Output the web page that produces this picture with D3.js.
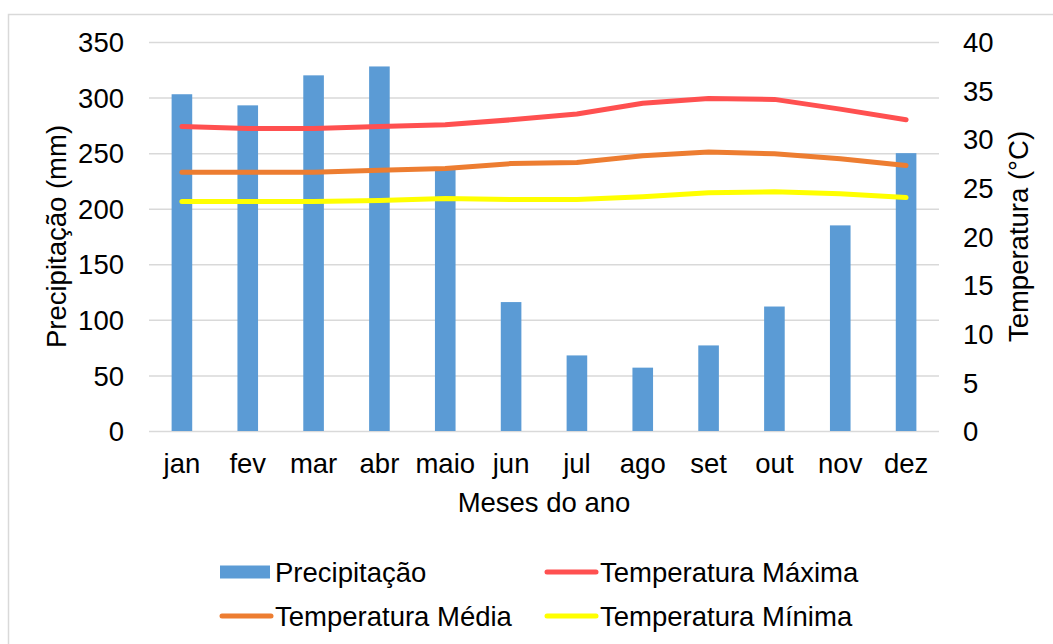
<!DOCTYPE html>
<html>
<head>
<meta charset="utf-8">
<script src="https://cdn.jsdelivr.net/npm/d3@7"></script>
<style>
  body { margin: 0; background: #fff; }
  svg text { font-family: "Liberation Sans", Arial, sans-serif; fill: #000; }
</style>
</head>
<body>
<svg id="chart"></svg>
<script>
// data
const months = ['jan', 'fev', 'mar', 'abr', 'maio', 'jun', 'jul', 'ago', 'set', 'out', 'nov', 'dez'];
const precip = [303, 293, 320, 328, 236, 116, 68, 57, 77, 112, 185, 250];
const tMax = [31.3, 31.1, 31.1, 31.3, 31.5, 32.0, 32.6, 33.7, 34.2, 34.1, 33.1, 32.0];
const tMed = [26.6, 26.6, 26.6, 26.8, 27.0, 27.5, 27.6, 28.3, 28.7, 28.5, 28.0, 27.3];
const tMin = [23.6, 23.6, 23.6, 23.7, 23.9, 23.8, 23.8, 24.1, 24.5, 24.6, 24.4, 24.0];
const leftTicks = [0, 50, 100, 150, 200, 250, 300, 350];
const rightTicks = [0, 5, 10, 15, 20, 25, 30, 35, 40];

const seriesNames = ['Precipitação', 'Temperatura Máxima', 'Temperatura Média', 'Temperatura Mínima'];
const colors = ['#5B9BD5', '#FF5050', '#ED7D31', '#FFFF00'];

const config = {
  width: 1053,
  height: 644,
  margin: { top: 42, bottom: 213, left: 149, right: 114 }
};
const width = config.width - config.margin.left - config.margin.right;
const height = config.height - config.margin.top - config.margin.bottom;
const fontSize = '27.5px';

const svg = d3.select('#chart')
  .attr('width', config.width)
  .attr('height', config.height);

// light frame of the chart area (only top and left show)
svg.append('rect')
  .attr('x', 8.5).attr('y', 14.5)
  .attr('width', 1200).attr('height', 800)
  .attr('fill', '#fff')
  .attr('stroke', '#d9d9d9')
  .attr('stroke-width', 1.5);

const chart = svg.append('g')
  .attr('transform', `translate(${config.margin.left},${config.margin.top})`);

// scales
const xScale = d3.scaleBand().domain(months).range([0, width]);
const yLeft = d3.scaleLinear().domain([0, 350]).range([height, 0]);
const yRight = d3.scaleLinear().domain([0, 40]).range([height, 0]);

// gridlines
chart.append('g')
  .attr('class', 'grid')
  .call(d3.axisLeft(yLeft).tickValues(leftTicks).tickSize(-width).tickFormat(''))
  .call(g => g.select('.domain').remove())
  .call(g => g.selectAll('line').attr('stroke', '#d9d9d9').attr('stroke-width', 1.5));

// left axis labels
chart.append('g')
  .call(d3.axisLeft(yLeft).tickValues(leftTicks).tickSize(0).tickPadding(25))
  .call(g => g.select('.domain').remove())
  .call(g => g.selectAll('text').style('font-size', fontSize).attr('dy', '0.35em'));

// right axis labels
chart.append('g')
  .attr('transform', `translate(${width},0)`)
  .call(d3.axisRight(yRight).tickValues(rightTicks).tickSize(0).tickPadding(24))
  .call(g => g.select('.domain').remove())
  .call(g => g.selectAll('text').style('font-size', fontSize).attr('dy', '0.35em'));

// x axis labels
chart.append('g')
  .attr('transform', `translate(0,${height})`)
  .call(d3.axisBottom(xScale).tickSize(0).tickPadding(22))
  .call(g => g.select('.domain').remove())
  .call(g => g.selectAll('text').style('font-size', fontSize));

// bars
const barW = xScale.bandwidth() * 0.313;
chart.selectAll('.bar')
  .data(precip)
  .join('rect')
  .attr('class', 'bar')
  .attr('x', (d, i) => xScale(months[i]) + xScale.bandwidth() / 2 - barW / 2)
  .attr('y', d => yLeft(d))
  .attr('width', barW)
  .attr('height', d => height - yLeft(d))
  .attr('fill', colors[0]);

// temperature lines
const line = d3.line()
  .x((d, i) => xScale(months[i]) + xScale.bandwidth() / 2)
  .y(d => yRight(d));

[tMax, tMed, tMin].forEach((s, k) => {
  chart.append('path')
    .datum(s)
    .attr('fill', 'none')
    .attr('stroke', colors[k + 1])
    .attr('stroke-width', 5)
    .attr('stroke-linecap', 'round')
    .attr('stroke-linejoin', 'round')
    .attr('d', line);
});

// axis titles
svg.append('text')
  .attr('transform', `translate(66,${config.margin.top + height / 2}) rotate(-90)`)
  .attr('text-anchor', 'middle')
  .style('font-size', fontSize)
  .text('Precipitação (mm)');

svg.append('text')
  .attr('transform', `translate(1028,${config.margin.top + height / 2}) rotate(-90)`)
  .attr('text-anchor', 'middle')
  .style('font-size', fontSize)
  .text('Temperatura (°C)');

svg.append('text')
  .attr('x', 544)
  .attr('y', 512)
  .attr('text-anchor', 'middle')
  .style('font-size', fontSize)
  .text('Meses do ano');

// legend, 2 x 2
const legendPos = [
  { x: 220, y: 572 },
  { x: 545, y: 572 },
  { x: 220, y: 616 },
  { x: 545, y: 616 }
];
const legend = svg.append('g').attr('class', 'legend');
seriesNames.forEach((name, i) => {
  const p = legendPos[i];
  if (i === 0) {
    legend.append('rect')
      .attr('x', p.x).attr('y', p.y - 6.5)
      .attr('width', 50).attr('height', 13)
      .attr('fill', colors[i]);
  } else {
    legend.append('line')
      .attr('x1', p.x + 2).attr('x2', p.x + 51)
      .attr('y1', p.y).attr('y2', p.y)
      .attr('stroke', colors[i])
      .attr('stroke-width', 5)
      .attr('stroke-linecap', 'round');
  }
  legend.append('text')
    .attr('x', p.x + 55)
    .attr('y', p.y)
    .attr('dy', '0.35em')
    .style('font-size', fontSize)
    .text(name);
});
</script>
</body>
</html>
